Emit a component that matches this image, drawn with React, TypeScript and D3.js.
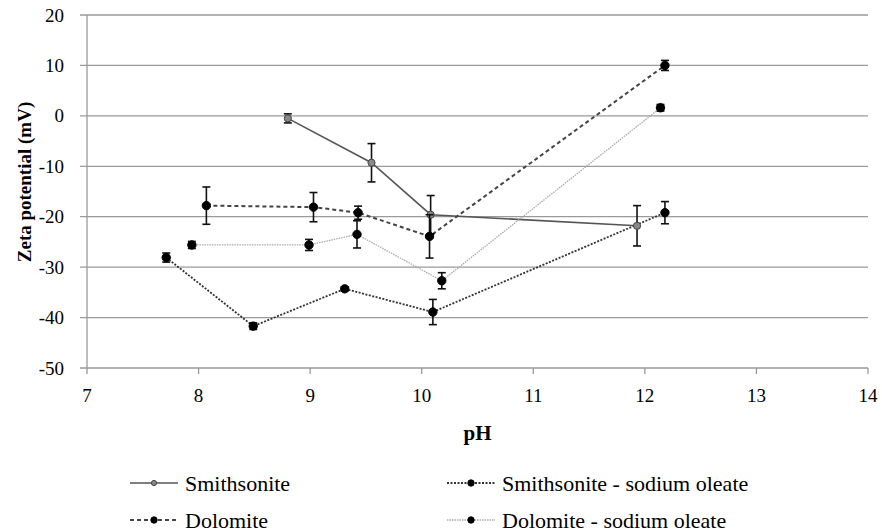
import React, { FC, useEffect, useRef } from 'react';
import * as d3 from 'd3';

// pH / zeta potential readings (mV) with error bar half-widths
const smithPH = [8.8, 9.55, 10.08, 11.93];
const smithZeta = [-0.5, -9.3, -19.6, -21.8];
const smithErr = [0.9, 3.8, 3.8, 4.0];

const dolPH = [8.07, 9.03, 9.43, 10.07, 12.18];
const dolZeta = [-17.8, -18.1, -19.2, -23.9, 10.0];
const dolErr = [3.7, 2.9, 1.3, 4.3, 1.0];

const smithOlPH = [7.71, 8.49, 9.31, 10.1, 12.18];
const smithOlZeta = [-28.1, -41.7, -34.3, -38.9, -19.2];
const smithOlErr = [0.9, 0.65, 0.4, 2.5, 2.2];

const dolOlPH = [7.94, 8.99, 9.42, 10.18, 12.14];
const dolOlZeta = [-25.6, -25.6, -23.5, -32.7, 1.6];
const dolOlErr = [0.7, 1.1, 2.7, 1.6, 0.65];

const xTicks = [7, 8, 9, 10, 11, 12, 13, 14];
const yTicks = [20, 10, 0, -10, -20, -30, -40, -50];

const WIDTH = 882;
const HEIGHT = 532;
const margin = { left: 87, right: 14, top: 15, bottom: 164 };
const FONT = 'Liberation Serif';

interface SeriesDef {
  name: string;
  ph: number[];
  zeta: number[];
  err: number[];
  stroke: string;
  width: number;
  dash: string;
  markerFill: string;
  markerStroke: string;
  r: number;
}

const series: SeriesDef[] = [
  { name: 'Smithsonite', ph: smithPH, zeta: smithZeta, err: smithErr, stroke: '#555', width: 1.6, dash: 'none', markerFill: '#888', markerStroke: '#444', r: 3.6 },
  { name: 'Dolomite', ph: dolPH, zeta: dolZeta, err: dolErr, stroke: '#444', width: 2, dash: '4,3', markerFill: '#000', markerStroke: '#000', r: 4.2 },
  { name: 'Smithsonite - sodium oleate', ph: smithOlPH, zeta: smithOlZeta, err: smithOlErr, stroke: '#333', width: 1.8, dash: '2,1.5', markerFill: '#000', markerStroke: '#000', r: 4.2 },
  { name: 'Dolomite - sodium oleate', ph: dolOlPH, zeta: dolOlZeta, err: dolOlErr, stroke: '#aaa', width: 1.3, dash: '1.5,1', markerFill: '#000', markerStroke: '#000', r: 4.2 },
];

const legendPos = [
  { x: 130, y: 483 },
  { x: 130, y: 520 },
  { x: 447, y: 483 },
  { x: 447, y: 520 },
];

const App: FC = () => {
  const ref = useRef<SVGSVGElement>(null);

  useEffect(() => {
    const svg = d3.select(ref.current);
    svg.selectAll('*').remove();

    const x = d3.scaleLinear().domain([7, 14]).range([margin.left, WIDTH - margin.right]);
    const y = d3.scaleLinear().domain([-50, 20]).range([HEIGHT - margin.bottom, margin.top]);
    const line = d3.line<[number, number]>().x(d => x(d[0])).y(d => y(d[1]));

    const addText = (g: d3.Selection<any, unknown, null, undefined>, s: string, size: number) =>
      g.append('text')
        .attr('font-family', FONT)
        .style('font-family', FONT)
        .attr('font-size', size)
        .text(s);

    // gridlines + y labels
    yTicks.forEach(t => {
      svg.append('line')
        .attr('x1', x(7) - 7).attr('x2', x(14))
        .attr('y1', y(t)).attr('y2', y(t))
        .attr('stroke', '#9a9a9a').attr('stroke-width', 1.3);
      addText(svg, String(t), 19)
        .attr('x', 64).attr('y', y(t) + 6.5)
        .attr('text-anchor', 'end');
    });
    svg.append('line')
      .attr('x1', x(7)).attr('x2', x(7))
      .attr('y1', y(20)).attr('y2', y(-50))
      .attr('stroke', '#9a9a9a').attr('stroke-width', 1.3);

    xTicks.forEach(t => {
      svg.append('line')
        .attr('x1', x(t)).attr('x2', x(t))
        .attr('y1', y(-50)).attr('y2', y(-50) + 6)
        .attr('stroke', '#9a9a9a').attr('stroke-width', 1.3);
      addText(svg, String(t), 19)
        .attr('x', x(t)).attr('y', 402)
        .attr('text-anchor', 'middle');
    });

    addText(svg, 'pH', 21)
      .attr('x', (x(7) + x(14)) / 2).attr('y', 440)
      .attr('text-anchor', 'middle').attr('font-weight', 'bold');
    addText(svg, 'Zeta potential (mV)', 19)
      .attr('transform', 'translate(31,182) rotate(-90)')
      .attr('text-anchor', 'middle').attr('font-weight', 'bold');

    // series lines
    series.forEach(s => {
      svg.append('path')
        .attr('d', line(s.ph.map((p, i) => [p, s.zeta[i]] as [number, number])) || '')
        .attr('fill', 'none')
        .attr('stroke', s.stroke)
        .attr('stroke-width', s.width)
        .attr('stroke-dasharray', s.dash);
    });

    // error bars and markers
    series.forEach(s => {
      s.ph.forEach((p, i) => {
        const cx = x(p);
        const top = y(s.zeta[i] + s.err[i]);
        const bot = y(s.zeta[i] - s.err[i]);
        const g = svg.append('g');
        g.append('line').attr('x1', cx).attr('x2', cx).attr('y1', top).attr('y2', bot).attr('stroke', '#111').attr('stroke-width', 1.6);
        g.append('line').attr('x1', cx - 4).attr('x2', cx + 4).attr('y1', top).attr('y2', top).attr('stroke', '#111').attr('stroke-width', 1.6);
        g.append('line').attr('x1', cx - 4).attr('x2', cx + 4).attr('y1', bot).attr('y2', bot).attr('stroke', '#111').attr('stroke-width', 1.6);
        g.append('circle').attr('cx', cx).attr('cy', y(s.zeta[i])).attr('r', s.r)
          .attr('fill', s.markerFill).attr('stroke', s.markerStroke).attr('stroke-width', 1);
      });
    });

    // legend
    series.forEach((s, i) => {
      const p = legendPos[i];
      const g = svg.append('g').attr('transform', `translate(${p.x},${p.y})`);
      g.append('line').attr('x1', 0).attr('x2', 48).attr('y1', 0).attr('y2', 0)
        .attr('stroke', s.stroke).attr('stroke-width', s.width).attr('stroke-dasharray', s.dash);
      g.append('circle').attr('cx', 24).attr('cy', 0).attr('r', s.r - 1)
        .attr('fill', s.markerFill).attr('stroke', s.markerStroke).attr('stroke-width', 1);
      addText(g, s.name, 22).attr('x', 55).attr('y', 7.5);
    });
  }, []);

  return (
    <svg
      ref={ref}
      width={WIDTH}
      height={HEIGHT}
      style={{ position: 'absolute', left: 0, top: 0, background: '#fff' }}
    />
  );
};

export default App;
